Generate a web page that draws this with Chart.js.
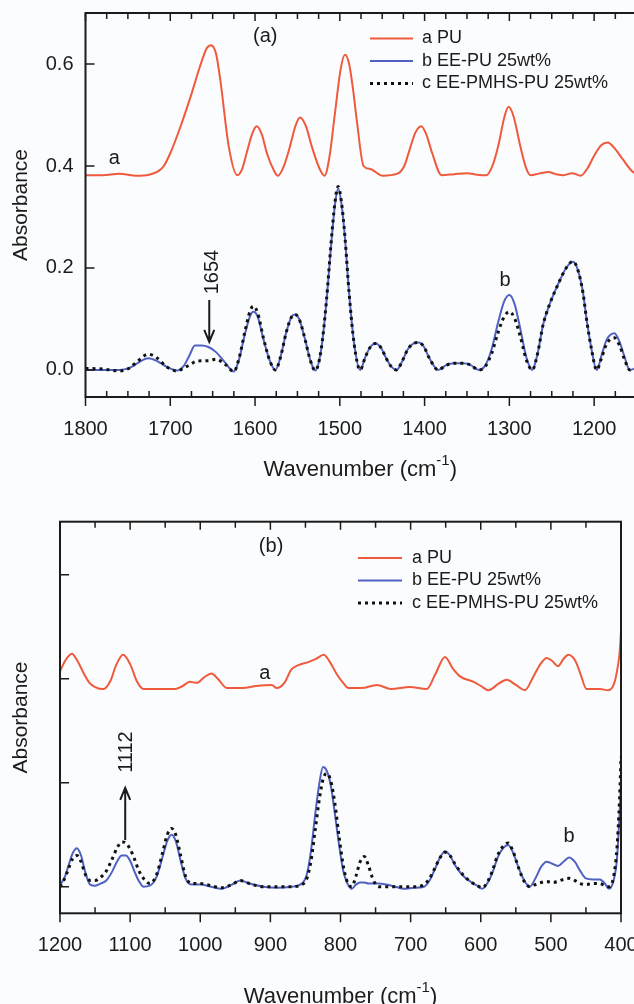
<!DOCTYPE html>
<html>
<head>
<meta charset="utf-8">
<script src="https://cdn.jsdelivr.net/npm/chart.js@4.4.1/dist/chart.umd.min.js"></script>
<style>
  html, body { margin: 0; padding: 0; width: 634px; height: 1004px; overflow: hidden; background: #fbfcfe; }
  #wrapA { position: absolute; left: 0; top: 0; width: 660px; height: 490px; }
  #wrapB { position: absolute; left: 0; top: 500px; width: 634px; height: 504px; }
</style>
</head>
<body>
<div id="wrapA"><canvas id="chartA" width="660" height="490"></canvas></div>
<div id="wrapB"><canvas id="chartB" width="634" height="504"></canvas></div>
<script>
// ---- panel (a): 1800 - 1140 cm-1 ----
const wnPuA = [
  1800,1780,1760,1740,1725,1715,1708,1700,1688,1676,
  1665,1657,1652,1646,1641,1631,1621,1615,1610,1603,
  1598,1592,1586,1578,1573,1566,1560,1552,1547,1540,
  1533,1524,1518,1512,1506,1499,1494,1489,1484,1480,
  1472,1464,1450,1432,1424,1418,1411,1404,1398,1391,
  1380,1365,1350,1338,1327,1320,1313,1306,1301,1295,
  1287,1280,1275,1265,1254,1245,1236,1226,1216,1208,
  1200,1192,1184,1176,1167,1154,1140
];
const puA = [
  0.382,0.382,0.385,0.381,0.383,0.389,0.399,0.425,0.477,0.536,
  0.595,0.631,0.637,0.620,0.569,0.438,0.382,0.395,0.425,0.465,
  0.478,0.462,0.425,0.392,0.381,0.400,0.431,0.480,0.495,0.478,
  0.438,0.395,0.381,0.420,0.500,0.590,0.618,0.600,0.545,0.490,
  0.400,0.394,0.381,0.385,0.400,0.430,0.465,0.478,0.462,0.425,
  0.382,0.384,0.386,0.383,0.382,0.400,0.440,0.495,0.516,0.497,
  0.438,0.395,0.382,0.385,0.388,0.384,0.382,0.386,0.381,0.395,
  0.420,0.440,0.446,0.435,0.415,0.388,0.380
];
const wnBcA = [
  1800,1780,1760,1748,1738,1726,1716,1704,1692,1684,
  1677,1671,1663,1655,1646,1636,1625,1619,1612,1606,
  1602,1597,1590,1583,1576,1570,1563,1557,1553,1548,
  1541,1535,1529,1522,1516,1510,1506,1502,1498,1494,
  1489,1483,1476,1470,1464,1458,1452,1445,1439,1433,
  1427,1420,1413,1407,1401,1394,1384,1375,1366,1355,
  1346,1336,1328,1321,1313,1306,1300,1294,1287,1280,
  1273,1267,1260,1252,1242,1233,1225,1219,1213,1209,
  1203,1197,1191,1185,1176,1170,1164,1158,1150,1140
];
const eePuA = [
  0.000,0.000,0.000,0.004,0.014,0.023,0.018,0.006,-0.001,0.008,
  0.030,0.048,0.048,0.045,0.035,0.016,-0.003,0.020,0.070,0.105,
  0.114,0.105,0.060,0.020,0.000,0.025,0.075,0.104,0.109,0.100,
  0.060,0.020,-0.001,0.040,0.130,0.250,0.320,0.356,0.325,0.260,
  0.150,0.050,0.000,0.025,0.045,0.052,0.045,0.022,0.006,0.000,
  0.015,0.040,0.052,0.054,0.046,0.022,0.000,0.009,0.013,0.013,
  0.010,0.000,0.010,0.040,0.095,0.135,0.147,0.130,0.080,0.025,
  0.000,0.030,0.090,0.131,0.170,0.200,0.212,0.195,0.150,0.100,
  0.040,0.000,0.030,0.060,0.072,0.055,0.025,0.000,0.004,0.010
];
const eePmhsA = [
  0.003,0.002,-0.002,0.004,0.018,0.031,0.024,0.006,-0.002,0.004,
  0.010,0.016,0.018,0.018,0.021,0.012,-0.003,0.022,0.075,0.115,
  0.125,0.112,0.062,0.020,0.000,0.025,0.075,0.104,0.109,0.100,
  0.060,0.020,-0.001,0.040,0.132,0.255,0.325,0.360,0.328,0.262,
  0.150,0.050,0.000,0.025,0.045,0.052,0.045,0.022,0.006,0.000,
  0.015,0.040,0.052,0.054,0.046,0.022,0.000,0.009,0.013,0.013,
  0.010,0.000,0.008,0.032,0.075,0.105,0.114,0.102,0.065,0.020,
  0.000,0.030,0.090,0.131,0.170,0.200,0.213,0.195,0.150,0.100,
  0.040,0.000,0.025,0.052,0.063,0.048,0.020,0.000,0.004,0.010
];

// ---- panel (b): 1200 - 400 cm-1 (arbitrary absorbance units) ----
const wnPuB = [
  1200,1192,1183,1175,1166,1158,1150,1138,1128,1120,
  1110,1100,1090,1081,1060,1036,1025,1015,1005,995,
  984,975,962,940,920,898,891,880,870,860,
  846,835,824,815,805,795,789,770,748,728,
  701,677,665,651,640,629,610,600,589,575,
  563,550,537,525,515,506,498,490,482,475,
  465,458,449,430,418,410,405,402,400
];
const puB = [
  2.07,2.18,2.24,2.17,2.05,1.96,1.92,1.90,1.98,2.13,
  2.23,2.14,1.97,1.90,1.90,1.90,1.93,1.97,1.96,2.01,
  2.05,2.00,1.91,1.91,1.93,1.94,1.91,1.96,2.09,2.13,
  2.16,2.19,2.23,2.16,2.04,1.95,1.91,1.91,1.94,1.90,
  1.92,1.90,2.04,2.21,2.10,2.02,1.97,1.93,1.89,1.95,
  1.99,1.94,1.89,2.02,2.14,2.20,2.17,2.12,2.19,2.23,
  2.17,2.05,1.90,1.90,1.89,1.95,2.10,2.25,2.45
];
const wnBcB = [
  1200,1194,1188,1182,1176,1170,1164,1157,1150,1142,
  1134,1126,1118,1112,1106,1100,1094,1088,1081,1072,
  1062,1054,1047,1041,1035,1028,1021,1012,1000,985,
  970,955,943,930,910,890,870,855,848,842,
  836,830,825,820,814,808,802,796,790,784,
  778,772,766,760,753,745,735,722,710,695,
  681,673,666,658,651,644,636,626,615,605,
  598,590,583,576,568,561,554,546,538,530,
  522,514,506,498,490,482,474,466,458,450,
  440,430,423,417,411,406,402,400
];
const eePuB = [
  0.02,0.08,0.20,0.32,0.37,0.30,0.14,0.02,0.01,0.03,
  0.06,0.14,0.25,0.30,0.30,0.25,0.15,0.06,0.00,0.01,
  0.10,0.28,0.44,0.50,0.44,0.25,0.08,0.02,0.02,0.00,
  -0.02,0.02,0.06,0.03,0.00,-0.01,0.00,0.03,0.12,0.35,
  0.70,1.00,1.15,1.12,0.98,0.70,0.40,0.15,0.03,-0.02,
  0.02,0.04,0.04,0.03,0.03,0.03,0.02,0.00,-0.02,-0.01,
  0.00,0.06,0.16,0.28,0.34,0.30,0.20,0.11,0.05,0.01,
  -0.02,0.04,0.14,0.28,0.37,0.40,0.33,0.18,0.06,0.00,
  0.08,0.19,0.24,0.22,0.20,0.24,0.28,0.24,0.15,0.08,
  0.07,0.07,0.03,-0.02,0.05,0.25,0.70,1.00
];
const eePmhsB = [
  0.00,0.07,0.17,0.27,0.30,0.24,0.12,0.06,0.06,0.09,
  0.15,0.26,0.38,0.43,0.42,0.36,0.27,0.16,0.08,0.03,
  0.12,0.32,0.50,0.56,0.50,0.30,0.10,0.03,0.03,0.01,
  -0.01,0.02,0.06,0.03,0.00,0.00,0.00,0.02,0.08,0.25,
  0.55,0.85,1.03,1.09,1.02,0.80,0.48,0.20,0.04,0.00,
  0.10,0.24,0.29,0.20,0.06,0.00,0.00,0.00,0.00,0.00,
  0.02,0.08,0.17,0.28,0.33,0.30,0.21,0.12,0.05,0.01,
  -0.01,0.05,0.16,0.30,0.39,0.42,0.34,0.18,0.05,0.00,
  0.02,0.04,0.05,0.04,0.05,0.07,0.08,0.06,0.03,0.02,
  0.03,0.03,0.01,0.00,0.08,0.35,0.85,1.25
];

const seriesLabels = ['a PU', 'b EE-PU 25wt%', 'c EE-PMHS-PU 25wt%'];

const RED = '#ef5a3c';
const BLUE = '#5061c2';
const INK = '#1b1b1b';
const FAMILY = "'Liberation Sans', Arial, Helvetica, sans-serif";
const font = size => size + 'px ' + FAMILY;

Chart.defaults.font.family = FAMILY;
Chart.defaults.color = INK;

const pts = (xs, ys) => xs.map((x, i) => ({ x: x, y: ys[i] }));

// frame, inward/outward ticks, legend, labels and the x title with superscript
const panelDeco = {
    id: 'panelDeco',
    afterDraw(chart, args, o) {
        const { ctx, chartArea: a, scales: { x, y } } = chart;
        ctx.save();
        ctx.strokeStyle = INK;
        ctx.lineWidth = 2;
        ctx.strokeRect(a.left, a.top, a.right - a.left, a.bottom - a.top);

        ctx.lineWidth = 1.5;
        ctx.beginPath();
        for (let v = Math.ceil(x.min / o.minorX) * o.minorX; v <= x.max + 1e-6; v += o.minorX) {
            const px = x.getPixelForValue(v);
            const major = Math.abs(v % o.majorX) < 1e-6;
            if (major) {
                ctx.moveTo(px, a.bottom); ctx.lineTo(px, a.bottom + 9);
            } else {
                ctx.moveTo(px, a.bottom); ctx.lineTo(px, a.bottom - 6);
            }
            ctx.moveTo(px, a.top); ctx.lineTo(px, a.top + (major ? 8 : 6));
        }
        y.ticks.forEach(t => {
            const py = y.getPixelForValue(t.value);
            ctx.moveTo(a.left, py); ctx.lineTo(a.left + 9, py);
        });
        ctx.stroke();

        // arrows
        ctx.lineWidth = 2;
        o.arrows.forEach(ar => {
            const px = x.getPixelForValue(ar.x);
            const y0 = y.getPixelForValue(ar.from);
            const y1 = y.getPixelForValue(ar.to);
            const dir = Math.sign(y1 - y0);
            ctx.beginPath();
            ctx.moveTo(px, y0); ctx.lineTo(px, y1);
            ctx.moveTo(px - 5, y1 - dir * 12); ctx.lineTo(px, y1); ctx.lineTo(px + 5, y1 - dir * 12);
            ctx.stroke();
        });

        // text labels
        ctx.fillStyle = INK;
        ctx.font = font(20);
        ctx.textAlign = 'center';
        ctx.textBaseline = 'middle';
        o.notes.forEach(n => {
            ctx.save();
            ctx.translate(x.getPixelForValue(n.x), y.getPixelForValue(n.y));
            if (n.rot) ctx.rotate(n.rot);
            ctx.fillText(n.text, 0, 0);
            ctx.restore();
        });

        // legend
        const lg = o.legend;
        ctx.textAlign = 'left';
        ctx.font = font(18);
        chart.data.datasets.forEach((ds, i) => {
            const yy = lg.y + i * lg.row;
            ctx.strokeStyle = ds.borderColor;
            ctx.lineWidth = ds.borderWidth;
            ctx.setLineDash(ds.borderDash || []);
            ctx.beginPath();
            ctx.moveTo(lg.x, yy); ctx.lineTo(lg.x + lg.len, yy);
            ctx.stroke();
            ctx.setLineDash([]);
            ctx.fillText(ds.label, lg.x + lg.len + lg.gap, yy);
        });

        // x title: Wavenumber (cm^-1)
        const t1 = 'Wavenumber (cm', t2 = '-1', t3 = ')';
        ctx.font = font(22);
        const w1 = ctx.measureText(t1).width, w3 = ctx.measureText(t3).width;
        ctx.font = font(15);
        const w2 = ctx.measureText(t2).width;
        let x0 = (a.left + a.right) / 2 + o.titleDx - (w1 + w2 + w3) / 2;
        ctx.font = font(22);
        ctx.fillText(t1, x0, o.titleY);
        ctx.font = font(15);
        ctx.fillText(t2, x0 + w1, o.titleY - 9);
        ctx.font = font(22);
        ctx.fillText(t3, x0 + w1 + w2, o.titleY);
        ctx.restore();
    }
};

function spectrumDatasets(pu, b, c) {
    return [
        { label: seriesLabels[0], data: pu, borderColor: RED, borderWidth: 2, order: 0 },
        { label: seriesLabels[1], data: b, borderColor: BLUE, borderWidth: 2, order: 2 },
        { label: seriesLabels[2], data: c, borderColor: '#111111', borderWidth: 3, borderDash: [3, 4], order: 1 }
    ];
}

// fixed axis box sizes so the plot area sits where the figure has it
const fixWidth = w => s => { s.width = w; s.paddingTop = 0; s.paddingBottom = 0; };
const fixHeight = h => s => { s.height = h; s.paddingLeft = 0; s.paddingRight = 0; };

const baseOptions = {
    responsive: false,
    animation: false,
    devicePixelRatio: 1,
    elements: {
        point: { radius: 0 },
        line: { cubicInterpolationMode: 'monotone', fill: false }
    }
};

// panel (a)
new Chart(document.getElementById('chartA'), {
    type: 'line',
    data: { datasets: spectrumDatasets(pts(wnPuA, puA), pts(wnBcA, eePuA), pts(wnBcA, eePmhsA)) },
    options: {
        ...baseOptions,
        layout: { padding: { top: 13, right: 15, left: 0, bottom: 0 } },
        plugins: {
            legend: { display: false },
            tooltip: { enabled: false },
            panelDeco: {
                minorX: 25, majorX: 100,
                titleDx: -5, titleY: 470,
                legend: { x: 370, y: 38.5, row: 22.5, len: 43, gap: 9 },
                notes: [
                    { text: '(a)', x: 1588, y: 0.653 },
                    { text: 'a', x: 1766, y: 0.414 },
                    { text: 'b', x: 1305, y: 0.176 },
                    { text: '1654', x: 1650, y: 0.192, rot: -Math.PI / 2 }
                ],
                arrows: [{ x: 1654, from: 0.137, to: 0.055 }]
            }
        },
        scales: {
            x: {
                type: 'linear', reverse: true, min: 1140, max: 1800,
                grid: { display: false, drawTicks: false }, border: { display: false },
                ticks: { stepSize: 100, includeBounds: false, autoSkip: false, maxRotation: 0, padding: 20,
                         font: { size: 20 }, callback: v => String(v) },
                afterFit: fixHeight(93)
            },
            y: {
                min: -0.053, max: 0.70,
                grid: { display: false, drawTicks: false }, border: { display: false },
                ticks: { stepSize: 0.2, includeBounds: false, padding: 12, font: { size: 20 },
                         callback: v => v.toFixed(1) },
                title: { display: true, text: 'Absorbance', font: { size: 21 }, padding: { top: 9, bottom: 0 } },
                afterFit: fixWidth(85.5)
            }
        }
    },
    plugins: [panelDeco]
});

// panel (b)
new Chart(document.getElementById('chartB'), {
    type: 'line',
    data: { datasets: spectrumDatasets(pts(wnPuB, puB), pts(wnBcB, eePuB), pts(wnBcB, eePmhsB)) },
    options: {
        ...baseOptions,
        layout: { padding: { top: 21.7, right: 13, left: 0, bottom: 0 } },
        plugins: {
            legend: { display: false },
            tooltip: { enabled: false },
            panelDeco: {
                minorX: 50, majorX: 100,
                titleDx: 0, titleY: 497,
                legend: { x: 358, y: 58, row: 22.5, len: 44, gap: 10 },
                notes: [
                    { text: '(b)', x: 899, y: 3.27 },
                    { text: 'a', x: 908, y: 2.05 },
                    { text: 'b', x: 474, y: 0.48 },
                    { text: '1112', x: 1105, y: 1.295, rot: -Math.PI / 2 }
                ],
                arrows: [{ x: 1107, from: 0.45, to: 0.95 }]
            }
        },
        scales: {
            x: {
                type: 'linear', reverse: true, min: 400, max: 1200,
                grid: { display: false, drawTicks: false }, border: { display: false },
                ticks: { stepSize: 100, autoSkip: false, maxRotation: 0, padding: 20,
                         font: { size: 20 }, callback: v => String(v) },
                afterFit: fixHeight(90.7)
            },
            y: {
                min: -0.256, max: 3.51,
                grid: { display: false, drawTicks: false }, border: { display: false },
                ticks: { stepSize: 1, includeBounds: false, padding: 12, font: { size: 20 },
                         callback: () => '' },
                title: { display: true, text: 'Absorbance', font: { size: 21 }, padding: { top: 9, bottom: 0 } },
                afterFit: fixWidth(60)
            }
        }
    },
    plugins: [panelDeco]
});
</script>
</body>
</html>
